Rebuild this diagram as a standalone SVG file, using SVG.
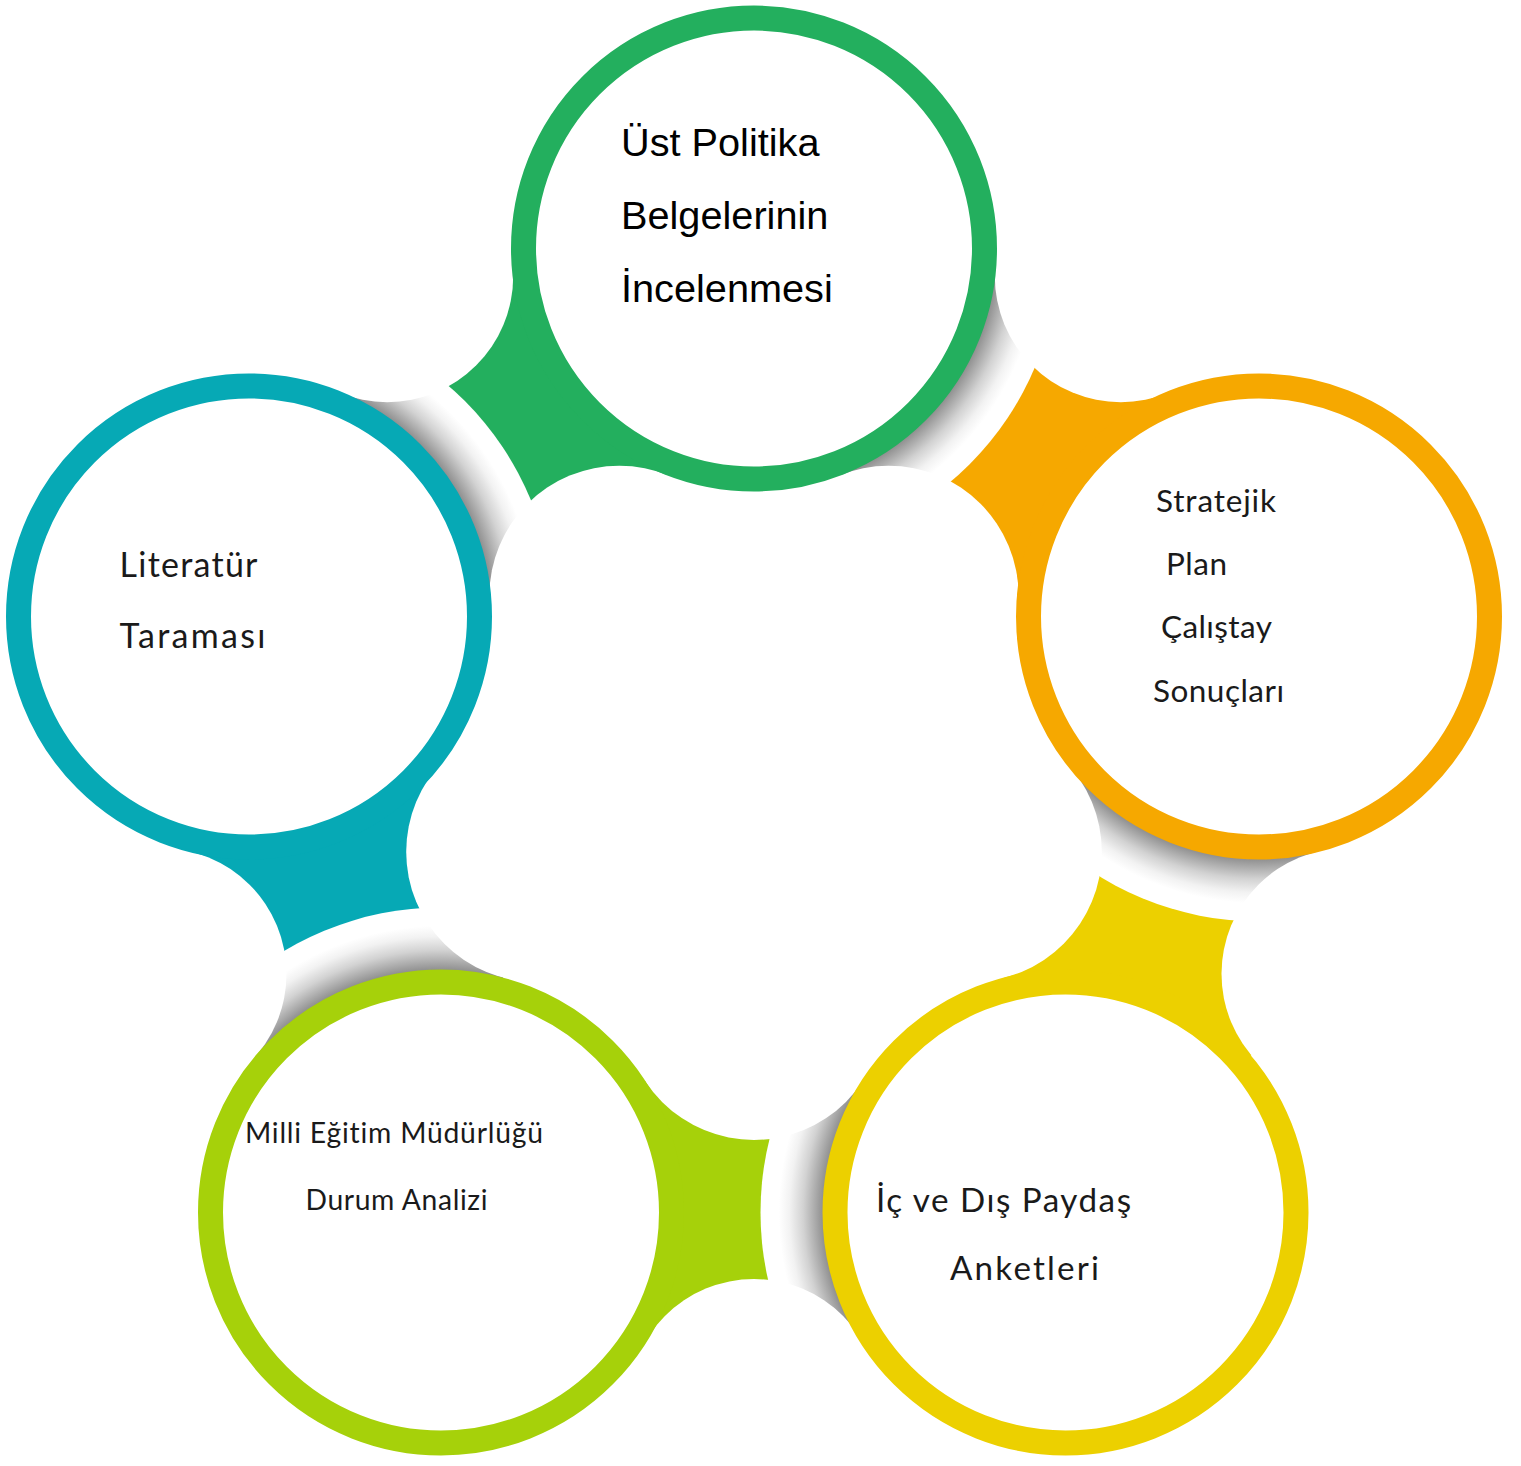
<svg xmlns="http://www.w3.org/2000/svg" width="1521" height="1466" viewBox="0 0 1521 1466">
<defs>
<style>
.ring{fill:#fff;stroke-width:25}
.gap{fill:#fff}
.t1{font-family:"Liberation Sans",Arial,sans-serif;font-size:39.7px;fill:#000}
.t2{font-family:Lato,"Noto Sans",sans-serif;fill:#1a1a1a;font-variant-ligatures:none}
</style>
<radialGradient id="halo" cx="0.5" cy="0.5" r="0.5">
<stop offset="0.79" stop-color="#8a8a8a"/>
<stop offset="0.82" stop-color="#a9a9a9"/>
<stop offset="0.86" stop-color="#d2d2d2"/>
<stop offset="0.905" stop-color="#f2f2f2"/>
<stop offset="0.94" stop-color="#ffffff"/>
</radialGradient>
<clipPath id="k1"><polygon points="249,616.5 387.2,276.2 754,248.5 619.4,595.7"/></clipPath>
<clipPath id="k2"><polygon points="754,248.5 1120.8,276.2 1259,616.5 888.6,595.7"/></clipPath>
<clipPath id="k3"><polygon points="1259,616.5 1347.5,973.8 1065.5,1212.5 971.8,851.8"/></clipPath>
<clipPath id="k4"><polygon points="1065.5,1212.5 754,1405 441,1212.5 754,1010"/></clipPath>
<clipPath id="k5"><polygon points="441,1212.5 160.5,973.8 249,616.5 536.2,851.8"/></clipPath>
</defs>
<rect width="1521" height="1466" fill="#fff"/>
<g id="connectors">
<polygon points="249,616.5 387.2,276.2 754,248.5 619.4,595.7" fill="#23AF5E"/>
<polygon points="754,248.5 1120.8,276.2 1259,616.5 888.6,595.7" fill="#F6A800"/>
<polygon points="1259,616.5 1347.5,973.8 1065.5,1212.5 971.8,851.8" fill="#ECD000"/>
<polygon points="1065.5,1212.5 754,1405 441,1212.5 754,1010" fill="#A6D10A"/>
<polygon points="441,1212.5 160.5,973.8 249,616.5 536.2,851.8" fill="#06A9B5"/>
<circle cx="249" cy="616.5" r="305" fill="url(#halo)" clip-path="url(#k1)"/>
<circle cx="754" cy="248.5" r="305" fill="url(#halo)" clip-path="url(#k2)"/>
<circle cx="1259" cy="616.5" r="305" fill="url(#halo)" clip-path="url(#k3)"/>
<circle cx="1065.5" cy="1212.5" r="305" fill="url(#halo)" clip-path="url(#k4)"/>
<circle cx="441" cy="1212.5" r="305" fill="url(#halo)" clip-path="url(#k5)"/>
<circle class="gap" cx="387.2" cy="276.2" r="126"/>
<circle class="gap" cx="1120.8" cy="276.2" r="126"/>
<circle class="gap" cx="1347.5" cy="973.8" r="126"/>
<circle class="gap" cx="754" cy="1405" r="126"/>
<circle class="gap" cx="160.5" cy="973.8" r="126"/>
<circle class="gap" cx="619.4" cy="595.7" r="130"/>
<circle class="gap" cx="888.6" cy="595.7" r="130"/>
<circle class="gap" cx="971.8" cy="851.8" r="130"/>
<circle class="gap" cx="754" cy="1010" r="130"/>
<circle class="gap" cx="536.2" cy="851.8" r="130"/>
</g>
<g id="node-ust-politika">
<circle class="ring" cx="754" cy="248.5" r="230.5" stroke="#23AF5E"/>
<text class="t1" x="621" y="156">Üst Politika</text>
<text class="t1" x="621" y="229">Belgelerinin</text>
<text class="t1" x="621" y="302">İncelenmesi</text>
</g>
<g id="node-stratejik-plan">
<circle class="ring" cx="1259" cy="616.5" r="230.5" stroke="#F6A800"/>
<text class="t2" font-size="31.5" x="1156" y="512" textLength="120">Stratejik</text>
<text class="t2" font-size="31.5" x="1166" y="575" textLength="61">Plan</text>
<text class="t2" font-size="31.5" x="1161" y="638" textLength="111">Çalıştay</text>
<text class="t2" font-size="31.5" x="1153" y="702" textLength="131">Sonuçları</text>
</g>
<g id="node-ic-dis-paydas">
<circle class="ring" cx="1065.5" cy="1212.5" r="230.5" stroke="#ECD000"/>
<text class="t2" font-size="33.2" x="876" y="1212" textLength="255">İç ve Dış Paydaş</text>
<text class="t2" font-size="33.2" x="950" y="1280" textLength="149">Anketleri</text>
</g>
<g id="node-milli-egitim">
<circle class="ring" cx="441" cy="1212.5" r="230.5" stroke="#A6D10A"/>
<text class="t2" font-size="28.3" x="245" y="1143" textLength="298">Milli Eğitim Müdürlüğü</text>
<text class="t2" font-size="28.3" x="305.5" y="1210" textLength="182">Durum Analizi</text>
</g>
<g id="node-literatur">
<circle class="ring" cx="249" cy="616.5" r="230.5" stroke="#06A9B5"/>
<text class="t2" font-size="34" x="119.5" y="577" textLength="138">Literatür</text>
<text class="t2" font-size="34" x="119.5" y="648" textLength="146">Taraması</text>
</g>
</svg>
